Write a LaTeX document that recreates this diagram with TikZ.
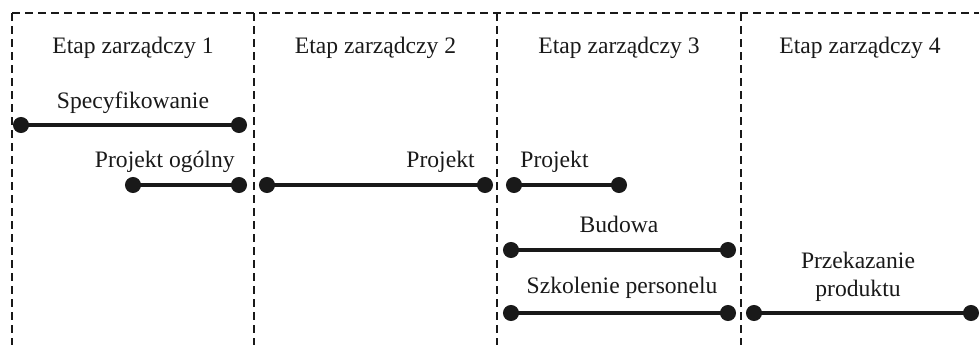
\documentclass[tikz,border=0pt]{standalone}
\usepackage{fontspec}
\setmainfont{Liberation Serif}
\usetikzlibrary{arrows.meta,positioning}

\begin{document}
\begin{tikzpicture}[
    x=0.5pt, y=-0.5pt,
    every node/.style={font=\fontsize{11.8}{14}\selectfont, align=center, inner sep=0pt, text=black!90},
    frame/.style={black!90, line width=1.2pt, dash pattern=on 4pt off 2.5pt},
    task/.style={{Circle[length=8pt]}-{Circle[length=8pt]}, line width=1.7pt, black!90}
]
\useasboundingbox (0,0) rectangle (979,345);

% Frame
\coordinate (tl) at (12,13);
\coordinate (tr) at (979,13);
\draw[frame] (tl) -- (tr);
\foreach \x/\n in {12/a,254/b,497/c,741/d} {
  \coordinate (top\n) at (\x,13);
  \coordinate (bot\n) at (\x,345);
  \draw[frame] (top\n) -- (bot\n);
}

% Headers
\foreach \x/\i in {133/1,375.5/2,619/3,860/4}
  \node[anchor=base] (etap\i) at (\x,53) {Etap zarządczy \i};

% Tasks
\coordinate (spec-s) at (13,125);  \coordinate (spec-e) at (247,125);
\coordinate (pog-s) at (125,185);  \coordinate (pog-e) at (247,185);
\coordinate (proj2-s) at (259,185); \coordinate (proj2-e) at (493,185);
\coordinate (proj3-s) at (506,185); \coordinate (proj3-e) at (627,185);
\coordinate (bud-s) at (503,250);  \coordinate (bud-e) at (736,250);
\coordinate (szk-s) at (503,313);  \coordinate (szk-e) at (736,313);
\coordinate (prz-s) at (746,313);  \coordinate (prz-e) at (979,313);

\draw[task] (spec-s) -- (spec-e);
\draw[task] (pog-s) -- (pog-e);
\draw[task] (proj2-s) -- (proj2-e);
\draw[task] (proj3-s) -- (proj3-e);
\draw[task] (bud-s) -- (bud-e);
\draw[task] (szk-s) -- (szk-e);
\draw[task] (prz-s) -- (prz-e);

% Labels
\node[anchor=base] (spec) at (133,108) {Specyfikowanie};
\node[anchor=base east] (pog) at (235,167) {Projekt ogólny};
\node[anchor=base east] (proj2) at (475,167) {Projekt};
\node[anchor=base west] (proj3) at (520,167) {Projekt};
\node[anchor=base] (bud) at (619,232) {Budowa};
\node[anchor=base] (szk) at (622,293) {Szkolenie personelu};
\node[anchor=base] (prz) at (858,296) {Przekazanie\\produktu};

\end{tikzpicture}
\end{document}
